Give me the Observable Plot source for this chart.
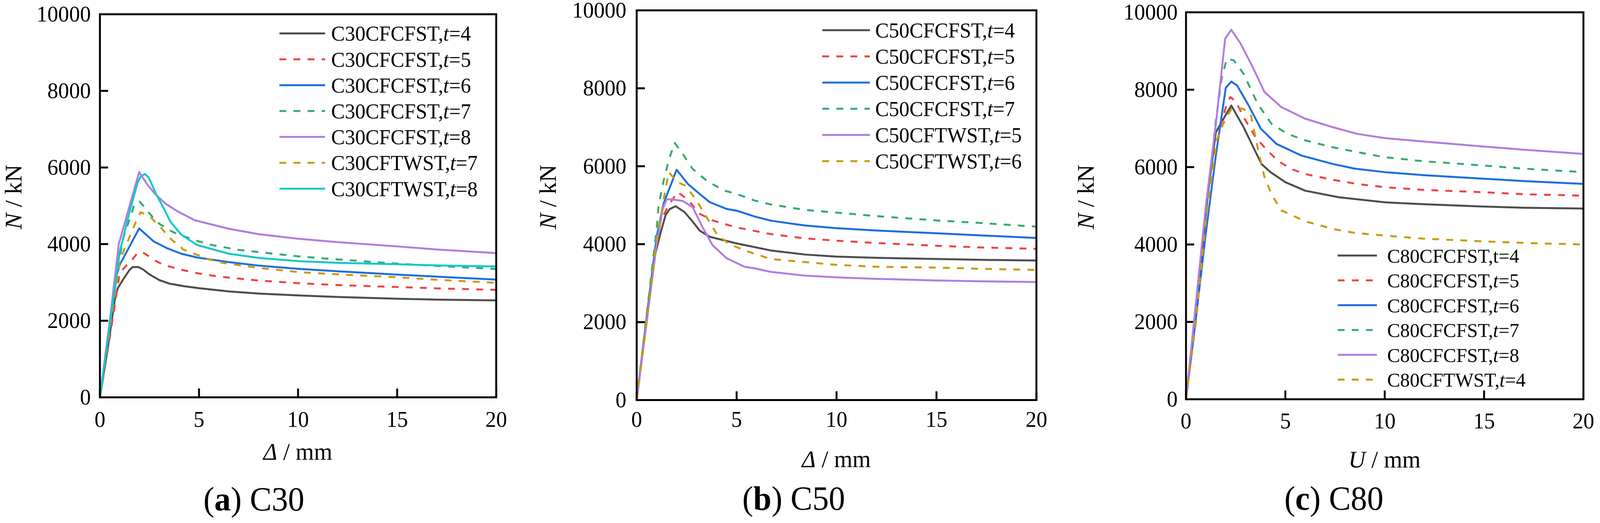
<!DOCTYPE html>
<html><head><meta charset="utf-8">
<script src="https://cdn.jsdelivr.net/npm/d3@7"></script>
<script src="https://cdn.jsdelivr.net/npm/@observablehq/plot@0.6"></script>
<style>
html,body{margin:0;padding:0;background:#fff;overflow:hidden;}
#root{position:relative;width:4203px;height:1338px;overflow:hidden;background:#fff;font-family:"Liberation Serif","Times New Roman",serif;transform-origin:0 0;}
.panel{position:absolute;top:0;}
.caption{position:absolute;font-size:86px;line-height:1;white-space:nowrap;transform:translateX(-50%);color:#000;font-family:"Liberation Serif","Times New Roman",serif;}
</style></head>
<body><div id="root"></div>
<script>
// ---------- tick values ----------
const xTicks = [0, 5, 10, 15, 20];
const yTicks = [0, 2000, 4000, 6000, 8000, 10000];

// ---------- (a) C30 : [Δ (mm), N (kN)] ----------
const a_cfcfst_t4 = [[0,0],[0.4,1300],[0.75,2550],[0.9,2850],[1.2,3100],[1.5,3330],[1.65,3400],[1.95,3400],[2.2,3330],[2.5,3210],[3.0,3060],[3.5,2970],[4.25,2900],[5,2850],[6.5,2765],[8,2710],[10,2660],[12,2620],[15,2575],[17,2550],[20,2530]];
const a_cfcfst_t5 = [[0,0],[0.4,1250],[0.75,2400],[1.0,3250],[1.35,3450],[1.6,3570],[1.85,3740],[2.1,3800],[2.45,3690],[2.75,3580],[3.2,3460],[4,3345],[4.7,3260],[5.5,3190],[6.2,3140],[8,3050],[10,2980],[12,2930],[15,2880],[17,2845],[20,2805]];
const a_cfcfst_t6 = [[0,0],[0.5,1850],[0.86,3220],[1.0,3460],[1.98,4410],[2.7,4075],[3.4,3890],[4.1,3750],[4.9,3650],[6.5,3530],[8,3440],[10,3355],[12,3290],[15,3205],[17,3150],[20,3075]];
const a_cfcfst_t7 = [[0,0],[0.5,2000],[0.9,3400],[1.2,4200],[1.55,4720],[1.75,5060],[2.0,5110],[2.3,4940],[2.5,4800],[2.8,4630],[3.0,4530],[3.4,4400],[3.7,4310],[4.2,4210],[5,4070],[5.7,3970],[7,3850],[10,3680],[12,3600],[15,3490],[17,3430],[20,3350]];
const a_cfcfst_t8 = [[0,0],[0.5,2000],[0.95,4000],[1.47,4950],[1.98,5880],[2.4,5550],[2.8,5300],[3.3,5060],[3.9,4860],[4.8,4620],[6.5,4400],[8,4260],[10,4140],[12,4050],[15,3940],[17,3860],[20,3765]];
const a_cftwst_t7 = [[0,0],[0.5,1850],[1.0,3550],[1.25,3900],[1.55,4250],[1.85,4620],[2.05,4830],[2.4,4760],[2.6,4680],[2.9,4520],[3.15,4390],[3.4,4230],[3.65,4100],[4,3970],[4.2,3860],[4.65,3770],[5,3700],[5.5,3600],[6.2,3510],[8,3380],[10,3270],[12,3210],[15,3135],[17,3070],[20,2990]];
const a_cftwst_t8 = [[0,0],[0.5,1900],[1.0,3800],[1.5,4850],[1.9,5600],[2.05,5760],[2.27,5830],[2.46,5740],[2.84,5300],[3.23,4925],[3.55,4590],[4.1,4250],[4.9,3975],[6.5,3750],[8,3640],[10,3555],[12,3510],[15,3475],[17,3445],[20,3415]];
const a_labels = ["C30CFCFST,t=4","C30CFCFST,t=5","C30CFCFST,t=6","C30CFCFST,t=7","C30CFCFST,t=8","C30CFTWST,t=7","C30CFTWST,t=8"];
const a_italicT = [true,true,true,true,true,true,true];

// ---------- (b) C50 ----------
const b_cfcfst_t4 = [[0,0],[0.4,1700],[0.85,3580],[1.2,4300],[1.45,4750],[1.65,4900],[1.95,4975],[2.4,4820],[2.8,4580],[3.15,4350],[3.65,4190],[5,4020],[6.7,3840],[8.4,3735],[10,3680],[12,3650],[15,3620],[17,3600],[20,3580]];
const b_cfcfst_t5 = [[0,0],[0.4,1700],[0.85,3600],[1.2,4600],[1.6,5000],[2.05,5340],[2.6,5120],[3.15,4780],[3.85,4600],[5,4430],[6.7,4260],[8.4,4150],[10,4090],[12,4030],[15,3960],[17,3920],[20,3880]];
const b_cfcfst_t6 = [[0,0],[0.5,2100],[1.0,4200],[1.35,5050],[2.0,5910],[2.55,5550],[3.15,5290],[3.65,5080],[4.5,4905],[5,4860],[5.9,4710],[6.7,4605],[8.4,4480],[10,4410],[12,4350],[15,4280],[17,4230],[20,4160]];
const b_cfcfst_t7 = [[0,0],[0.5,2200],[1.0,4400],[1.1,5000],[1.35,5630],[1.6,6150],[1.9,6600],[2.3,6320],[2.8,5930],[3.5,5630],[4.35,5380],[5,5290],[5.9,5120],[6.7,5020],[8.4,4880],[10,4810],[12,4720],[15,4610],[17,4550],[20,4450]];
const b_cftwst_t5 = [[0,0],[0.5,2000],[1.0,4000],[1.3,4900],[1.5,5150],[1.75,5150],[2.3,5110],[2.8,4950],[3.3,4430],[3.8,3970],[4.5,3640],[5.4,3420],[5.9,3380],[6.7,3290],[8.4,3195],[10,3150],[12,3110],[15,3070],[17,3050],[20,3030]];
const b_cftwst_t6 = [[0,0],[0.5,2000],[1.0,4100],[1.3,5000],[1.6,5850],[2.05,5590],[2.45,5500],[3.0,5120],[3.5,4690],[4.0,4270],[4.6,4010],[5.4,3840],[6.7,3620],[8.4,3540],[10,3470],[12,3420],[15,3400],[17,3370],[20,3340]];
const b_labels = ["C50CFCFST,t=4","C50CFCFST,t=5","C50CFCFST,t=6","C50CFCFST,t=7","C50CFTWST,t=5","C50CFTWST,t=6"];
const b_italicT = [true,true,true,true,true,true];

// ---------- (c) C80 ----------
const c_cfcfst_t4 = [[0,0],[0.5,2300],[1.1,5300],[1.5,6900],[2.0,7350],[2.28,7590],[2.9,7030],[3.4,6500],[3.8,6080],[4.25,5870],[5,5610],[6,5390],[7.7,5220],[10,5090],[12,5040],[15,4980],[17,4950],[20,4930]];
const c_cfcfst_t5 = [[0,0],[0.5,2200],[1.1,5000],[1.4,6050],[1.7,7000],[2.05,7630],[2.23,7810],[2.5,7700],[2.9,7290],[3.5,6770],[3.95,6510],[4.6,6170],[5.3,5950],[6,5820],[7.4,5670],[8.6,5565],[10,5480],[12,5410],[15,5350],[17,5300],[20,5260]];
const c_cfcfst_t6 = [[0,0],[0.5,2100],[1.0,4300],[1.5,6300],[2.0,8050],[2.28,8210],[2.57,8110],[3.1,7640],[3.77,6990],[4.55,6600],[5.8,6300],[7.4,6080],[8.5,5960],[10,5870],[12,5790],[15,5700],[17,5640],[20,5565]];
const c_cfcfst_t7 = [[0,0],[0.5,2300],[1.0,4700],[1.5,7200],[1.8,8300],[2.05,8800],[2.4,8760],[2.9,8410],[3.6,7640],[4.3,7120],[5.1,6860],[6,6690],[7.4,6510],[8.5,6400],[10,6255],[12,6150],[15,6040],[17,5960],[20,5870]];
const c_cfcfst_t8 = [[0,0],[0.5,2500],[1.0,5000],[1.5,7100],[1.97,9320],[2.28,9550],[2.75,9190],[3.35,8590],[3.95,7940],[4.8,7550],[6,7250],[7.4,7030],[8.6,6860],[10,6750],[12,6660],[15,6530],[17,6450],[20,6340]];
const c_cftwst_t4 = [[0,0],[0.5,2000],[1.0,4600],[1.55,6700],[1.9,7150],[2.28,7500],[2.6,7530],[2.9,7500],[3.25,7380],[3.6,6510],[3.95,5740],[4.3,5300],[4.8,4880],[6,4600],[7.4,4400],[8.5,4300],[10,4230],[12,4150],[15,4080],[17,4040],[20,4000]];
const c_labels = ["C80CFCFST,t=4","C80CFCFST,t=5","C80CFCFST,t=6","C80CFCFST,t=7","C80CFCFST,t=8","C80CFTWST,t=4"];
const c_italicT = [false,true,true,true,true,true];

// ---------- styles ----------
const COL = {black:"#4d4d4d", red:"#f04343", blue:"#1c6fe0", green:"#36ab6c", purple:"#b27de0", gold:"#cc9906", cyan:"#12c9c6"};
const DASH = "18,19";
const FONT = "'Liberation Serif','Times New Roman',serif";

const panels = [
  {left:0, width:1400, height:1215, mt:36, ml:262, mr:97, mb:199, xpad:35, ypad:24,
   ylab:[36,504], xlab:[782.5,1176], xname:"Δ",
   leg:{x1:734, x2:854, tx:870, y0:85.5, dy:66.2, fs:54},
   cap:{x:667, top:1234, letter:"a", name:"C30"},
   data:[a_cfcfst_t4,a_cfcfst_t5,a_cfcfst_t6,a_cfcfst_t7,a_cfcfst_t8,a_cftwst_t7,a_cftwst_t8],
   labels:a_labels, italic:a_italicT,
   colors:[COL.black,COL.red,COL.blue,COL.green,COL.purple,COL.gold,COL.cyan],
   dashed:[false,true,false,true,false,true,false]},
  {left:1400, width:1400, height:1215, mt:26, ml:272, mr:78, mb:192, xpad:28, ypad:27,
   ylab:[40,504], xlab:[797,1195], xname:"Δ",
   leg:{x1:760, x2:885, tx:899, y0:77.2, dy:67, fs:54},
   cap:{x:2085, top:1232, letter:"b", name:"C50"},
   data:[b_cfcfst_t4,b_cfcfst_t5,b_cfcfst_t6,b_cfcfst_t7,b_cftwst_t5,b_cftwst_t6],
   labels:b_labels, italic:b_italicT,
   colors:[COL.black,COL.red,COL.blue,COL.green,COL.purple,COL.gold],
   dashed:[false,true,false,true,false,true]},
  {left:2800, width:1403, height:1215, mt:31, ml:315, mr:44, mb:194, xpad:34, ypad:22,
   ylab:[53,504], xlab:[837,1196], xname:"U",
   leg:{x1:714, x2:817, tx:844, y0:653.7, dy:63.5, fs:51},
   cap:{x:3504, top:1232, letter:"c", name:"C80"},
   data:[c_cfcfst_t4,c_cfcfst_t5,c_cfcfst_t6,c_cfcfst_t7,c_cfcfst_t8,c_cftwst_t4],
   labels:c_labels, italic:c_italicT,
   colors:[COL.black,COL.red,COL.blue,COL.green,COL.purple,COL.gold],
   dashed:[false,true,false,true,false,true]}
];

const root = document.getElementById("root");

for (const p of panels) {
  const fw = p.width - p.ml - p.mr, fh = p.height - p.mt - p.mb;
  const marks = [
    Plot.ruleX(xTicks, {x: d => d, insetTop: fh - 22, stroke: "#000", strokeWidth: 5}),
    Plot.ruleY(yTicks, {y: d => d, insetRight: fw - 22, stroke: "#000", strokeWidth: 5}),
    ...p.data.map((s, i) => Plot.line(s, {
      x: d => d[0], y: d => d[1], stroke: p.colors[i], strokeWidth: 5,
      strokeLinejoin: "round", strokeLinecap: "butt",
      strokeDasharray: p.dashed[i] ? DASH : undefined
    })),
    Plot.frame({stroke: "#000", strokeWidth: 5}),
    Plot.axisX({ticks: xTicks, tickSize: 0, tickPadding: p.xpad, label: null, tickFormat: d => String(d)}),
    Plot.axisY({ticks: yTicks, tickSize: 0, tickPadding: p.ypad, label: null, tickFormat: d => String(d)})
  ];
  const svg = Plot.plot({
    width: p.width, height: p.height,
    marginTop: p.mt, marginLeft: p.ml, marginRight: p.mr, marginBottom: p.mb,
    x: {domain: [0, 20]}, y: {domain: [0, 10000]},
    style: {fontFamily: FONT, fontSize: "57px", color: "#000", background: "#fff", overflow: "visible"},
    marks
  });
  const s = d3.select(svg);
  // y-axis title
  const yl = s.append("text")
    .attr("transform", `translate(${p.ylab[0]},${p.ylab[1]}) rotate(-90)`)
    .attr("text-anchor", "middle").attr("dy", "0.33em")
    .attr("font-size", 62).attr("fill", "#000").attr("font-family", FONT);
  yl.append("tspan").attr("font-style", "italic").text("N");
  yl.append("tspan").text(" / kN");
  // x-axis title
  const xl = s.append("text")
    .attr("x", p.xlab[0]).attr("y", p.xlab[1])
    .attr("text-anchor", "middle")
    .attr("font-size", 62).attr("fill", "#000").attr("font-family", FONT);
  xl.append("tspan").attr("font-style", "italic").text(p.xname);
  xl.append("tspan").text(" / mm");
  // legend
  const lg = s.append("g").attr("font-family", FONT).attr("font-size", p.leg.fs).attr("text-anchor", "start");
  p.labels.forEach((lab, i) => {
    const y = p.leg.y0 + i * p.leg.dy;
    lg.append("line").attr("x1", p.leg.x1).attr("x2", p.leg.x2).attr("y1", y).attr("y2", y)
      .attr("stroke", p.colors[i]).attr("stroke-width", 5)
      .attr("stroke-dasharray", p.dashed[i] ? DASH : null);
    const [pre, post] = lab.split(",t");
    const t = lg.append("text").attr("x", p.leg.tx).attr("y", y).attr("dy", "0.35em")
      .attr("text-anchor", "start").attr("fill", "#000");
    t.append("tspan").text(pre + ",");
    t.append("tspan").attr("font-style", p.italic[i] ? "italic" : "normal").text("t");
    t.append("tspan").text(post);
  });

  const div = document.createElement("div");
  div.className = "panel";
  div.style.left = p.left + "px";
  div.appendChild(svg);
  root.appendChild(div);

  const cap = document.createElement("div");
  cap.className = "caption";
  cap.style.left = p.cap.x + "px";
  cap.style.top = p.cap.top + "px";
  cap.innerHTML = `(<b>${p.cap.letter}</b>) ${p.cap.name}`;
  root.appendChild(cap);
}

// fit the 4203×1338 layout into the actual viewport
function fit() {
  const vw = document.documentElement.clientWidth || window.innerWidth;
  const vh = document.documentElement.clientHeight || window.innerHeight;
  const sx = vw > 0 ? vw / 4203 : 1;
  const sy = vh > 0 ? vh / 1338 : 1;
  root.style.transform = (Math.abs(sx - 1) < 0.001 && Math.abs(sy - 1) < 0.001) ? "" : `scale(${sx},${sy})`;
}
fit();
window.addEventListener("resize", fit);
</script>
</body></html>
